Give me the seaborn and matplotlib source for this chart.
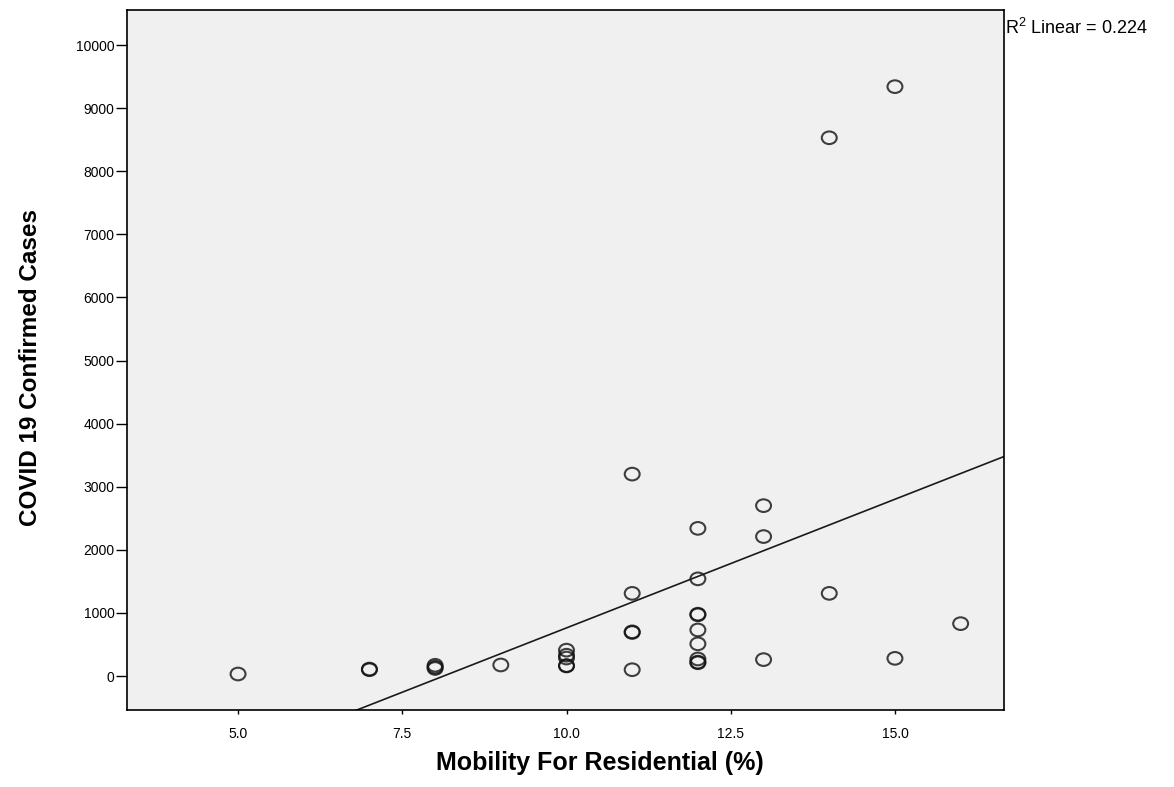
import numpy as np
import pandas as pd
import matplotlib
matplotlib.use('Agg')
import matplotlib.pyplot as plt
import seaborn as sns
from matplotlib.path import Path
from matplotlib.transforms import Affine2D

# values
mobility = [5, 7, 7, 8, 8, 8, 9,
            10, 10, 10, 10, 10,
            11, 11, 11, 11, 11,
            12, 12, 12, 12, 12, 12, 12, 12, 12,
            13, 13, 13,
            14, 14,
            15, 15,
            16]
cases = [32, 100, 110, 120, 140, 170, 175,
         410, 330, 285, 165, 160,
         3200, 1310, 700, 690, 100,
         2340, 1540, 980, 970, 730, 510, 270, 220, 210,
         2700, 2210, 260,
         8530, 1310,
         9340, 280,
         830]

df = pd.DataFrame({'Mobility': mobility, 'Cases': cases})

sns.set_style('ticks')
plt.rcParams['font.family'] = ['Liberation Sans', 'DejaVu Sans']
plt.rcParams['mathtext.fontset'] = 'custom'
plt.rcParams['mathtext.rm'] = 'Liberation Sans'
plt.rcParams['text.color'] = 'black'
plt.rcParams['axes.labelcolor'] = 'black'

# slightly wide open circle, like the original chart
ell = Path.unit_circle().transformed(Affine2D().scale(1.18, 1.0))

fig = plt.figure(figsize=(11.74, 7.87), dpi=100)
ax = fig.add_axes([0.1082, 0.0978, 0.747, 0.8895])
ax.set_facecolor('#f0f0f0')

# set limits first so the fit line spans the whole axis
ax.set_xlim(3.31, 16.66)
ax.set_ylim(-539, 10555)

sns.regplot(x='Mobility', y='Cases', data=df, ax=ax, ci=None, truncate=False, marker=ell,
            scatter_kws={'s': 115, 'facecolors': 'none', 'edgecolors': '#111111', 'linewidths': 1.5},
            line_kws={'color': '#1a1a1a', 'linewidth': 1.2})

ax.set_xlim(3.31, 16.66)
ax.set_ylim(-539, 10555)
ax.set_xticks([5.0, 7.5, 10.0, 12.5, 15.0])
ax.set_xticklabels(['5.0', '7.5', '10.0', '12.5', '15.0'])
ax.set_yticks(np.arange(0, 10001, 1000))
ax.tick_params(labelsize=10, colors='black', width=1)
ax.tick_params(axis='y', length=8, pad=1)
ax.tick_params(axis='x', length=3, pad=9)

for sp in ax.spines.values():
    sp.set_color('black')
    sp.set_linewidth(1.2)

ax.set_xlabel('Mobility For Residential (%)', fontsize=18, fontweight='bold')
ax.set_ylabel('COVID 19 Confirmed Cases', fontsize=17.5, fontweight='bold')
ax.xaxis.set_label_coords(0.539, -0.058)
ax.yaxis.set_label_coords(-0.097, 0.49)

fig.text(0.856, 0.964, r'R$^2$ Linear = 0.224', fontsize=13, ha='left', va='center')

fig.savefig('out.png', dpi=100)
